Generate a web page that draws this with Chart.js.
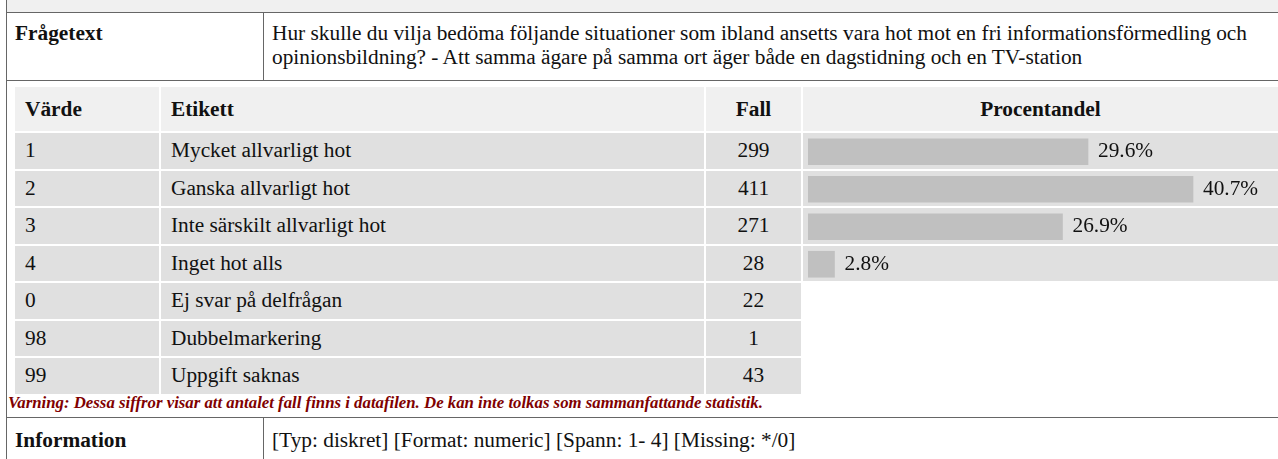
<!DOCTYPE html>
<html>
<head>
<meta charset="utf-8">
<script src="https://cdn.jsdelivr.net/npm/chart.js@4"></script>
<style>
  html, body { margin: 0; padding: 0; background: #fff; overflow: hidden; }
  body { width: 1278px; height: 459px; position: relative; font-family: "Liberation Serif", "Times New Roman", serif; font-size: 21.33px; color: #111; }
  .abs { position: absolute; box-sizing: border-box; white-space: nowrap; }
  .line { position: absolute; background: #666; }
  .hd { background: #f0f0f0; font-weight: bold; display: flex; align-items: center; }
  .cell { background: #e0e0e0; display: flex; align-items: center; }
  .pad { padding-left: 10px; }
  .ctr { justify-content: center; }
  #warn { font-size: 16.8px; font-weight: bold; font-style: italic; color: #800000; }
</style>
</head>
<body>
<div id="page"></div>
<canvas id="barChart" class="abs" width="473" height="150" style="left:808px;top:133px;width:473px;height:150px;"></canvas>
<script>
// data
const values = ['1', '2', '3', '4', '0', '98', '99'];
const labels = ['Mycket allvarligt hot', 'Ganska allvarligt hot', 'Inte särskilt allvarligt hot', 'Inget hot alls',
    'Ej svar på delfrågan', 'Dubbelmarkering', 'Uppgift saknas'];
const cases = [299, 411, 271, 28, 22, 1, 43];
const percents = [29.6, 40.7, 26.9, 2.8];

const questionText = 'Hur skulle du vilja bedöma följande situationer som ibland ansetts vara hot mot en fri informationsförmedling och<br>opinionsbildning? - Att samma ägare på samma ort äger både en dagstidning och en TV-station';
const infoText = '[Typ: diskret] [Format: numeric] [Spann: 1- 4] [Missing: */0]';
const warnText = 'Varning: Dessa siffror visar att antalet fall finns i datafilen. De kan inte tolkas som sammanfattande statistik.';

const page = document.getElementById('page');

const box = (cls, x, y, w, h, html) => {
    const d = document.createElement('div');
    d.className = 'abs ' + cls;
    d.style.left = x + 'px';
    d.style.top = y + 'px';
    d.style.width = w + 'px';
    d.style.height = h + 'px';
    if (html !== undefined) d.innerHTML = html;
    page.appendChild(d);
    return d;
};

// outer frame
box('', 7, 0, 1271, 12).style.background = '#f0f0f0';
box('line', 6, 0, 1, 459);
box('line', 6, 12, 1272, 1);
box('line', 6, 80, 1272, 1);
box('line', 263, 13, 1, 67);
box('line', 6, 417, 1272, 1);
box('line', 263, 418, 1, 41);

box('', 15, 21, 240, 24, '<b>Frågetext</b>').style.lineHeight = '24px';
box('', 272, 21, 1000, 48, questionText).style.lineHeight = '24px';
box('', 15, 428, 240, 24, '<b>Information</b>').style.lineHeight = '24px';
box('', 272, 428, 1000, 24, infoText).style.lineHeight = '24px';

// table
const cols = [[15, 144], [161, 543], [706, 95], [803, 475]];
const heads = ['Värde', 'Etikett', 'Fall', 'Procentandel'];
heads.forEach((h, i) => {
    box('hd ' + (i >= 2 ? 'ctr' : 'pad'), cols[i][0], 87, cols[i][1], 44, h);
});

values.forEach((v, r) => {
    const y = 133 + r * 37.5;
    box('cell pad', cols[0][0], y, cols[0][1], 35.5, v);
    box('cell pad', cols[1][0], y, cols[1][1], 35.5, labels[r]);
    box('cell ctr', cols[2][0], y, cols[2][1], 35.5, String(cases[r]));
    if (r < percents.length) box('cell', cols[3][0], y, cols[3][1], 35.5);
});

const w = box('', 8, 394, 1200, 18, warnText);
w.id = 'warn';
w.style.lineHeight = '18px';

// bars in the Procentandel column
const valueLabels = {
    id: 'valueLabels',
    afterDatasetsDraw(chart) {
        const ctx = chart.ctx;
        ctx.save();
        ctx.font = '21.33px "Liberation Serif", serif';
        ctx.fillStyle = '#111';
        ctx.textBaseline = 'middle';
        chart.getDatasetMeta(0).data.forEach((bar, i) => {
            ctx.fillText(percents[i].toFixed(1) + '%', bar.x + 10, bar.y);
        });
        ctx.restore();
    }
};

new Chart(document.getElementById('barChart').getContext('2d'), {
    type: 'bar',
    data: {
        labels: values.slice(0, percents.length),
        datasets: [{
            data: percents,
            backgroundColor: '#c0c0c0',
            borderWidth: 0,
            barThickness: 26
        }]
    },
    options: {
        indexAxis: 'y',
        responsive: false,
        animation: false,
        devicePixelRatio: 1,
        layout: { padding: 0 },
        plugins: {
            legend: { display: false },
            tooltip: { enabled: false }
        },
        scales: {
            x: { display: false, min: 0, max: 50 },
            y: { display: false }
        }
    },
    plugins: [valueLabels]
});
</script>
</body>
</html>
